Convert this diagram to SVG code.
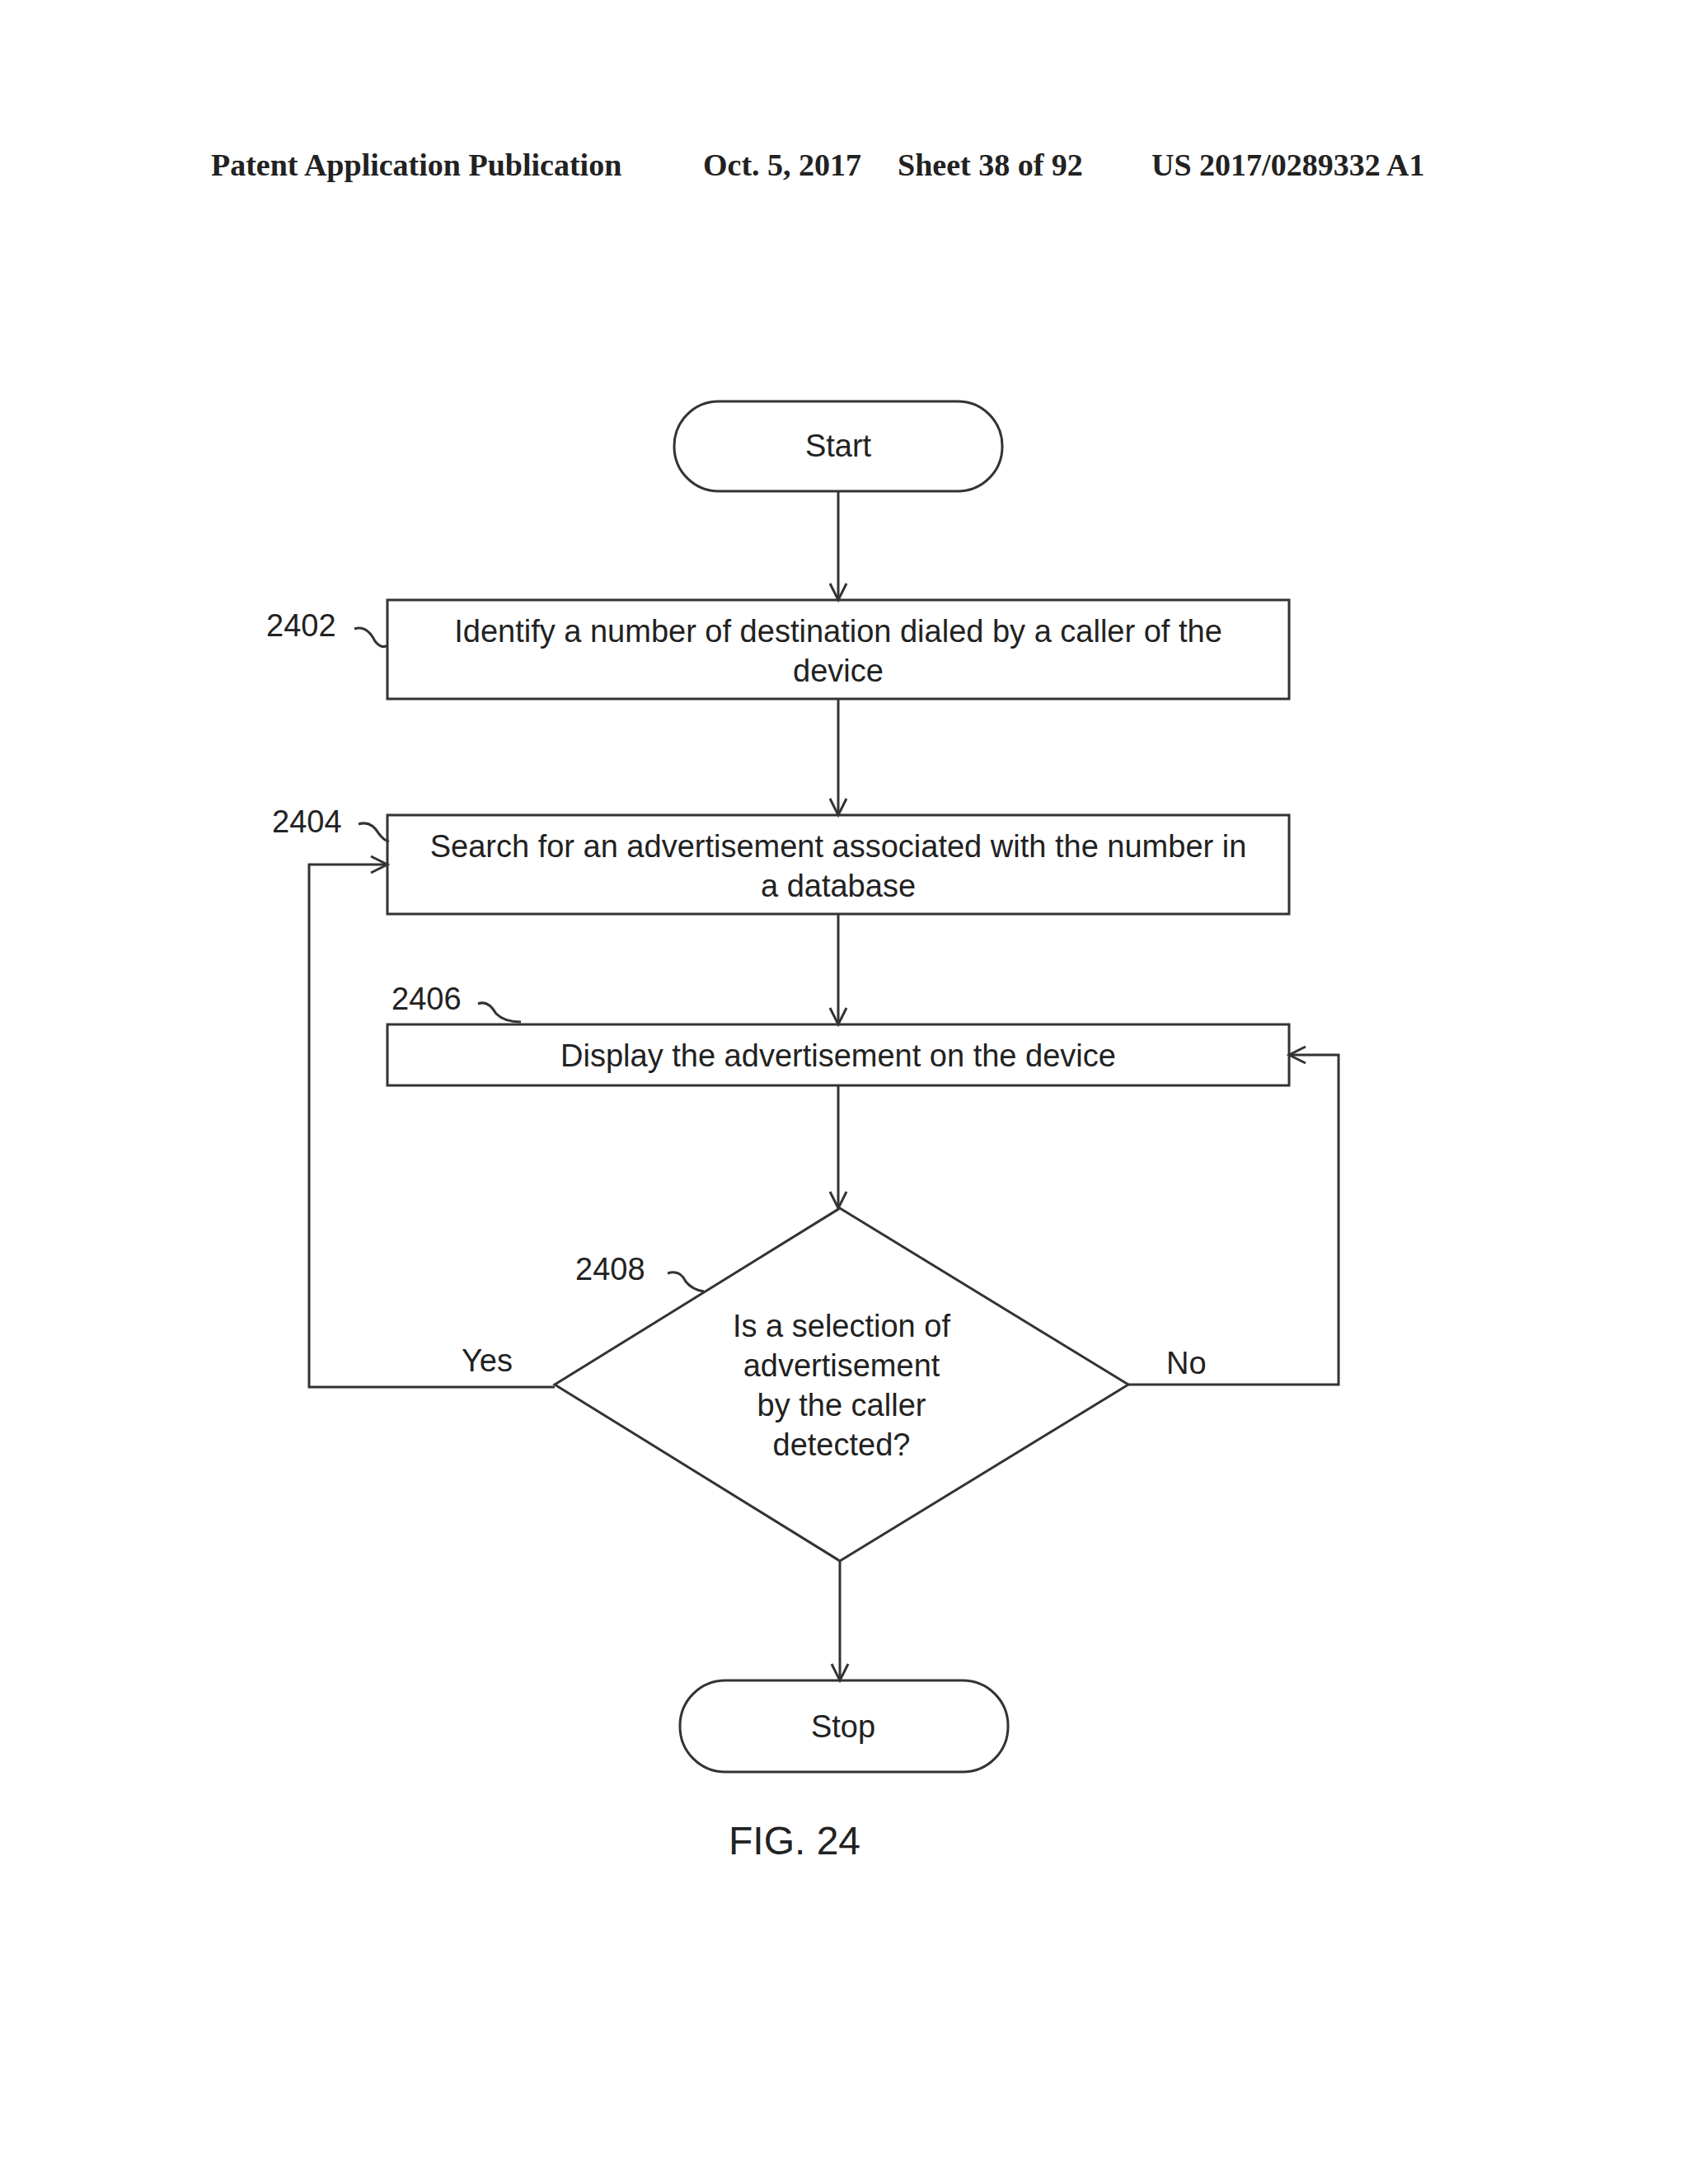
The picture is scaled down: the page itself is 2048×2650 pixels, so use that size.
<svg xmlns="http://www.w3.org/2000/svg" width="2048" height="2650" viewBox="0 0 2048 2650">
<style>
.s{fill:none;stroke:#333;stroke-width:3}
.t{font-family:"Liberation Sans",Arial,sans-serif;font-size:38px;fill:#222;text-anchor:middle}
.l{font-family:"Liberation Sans",Arial,sans-serif;font-size:38px;fill:#222}
.h{font-family:"Liberation Serif","Times New Roman",serif;font-size:38px;font-weight:bold;fill:#222}
</style>
<defs><marker id="a" markerWidth="30" markerHeight="30" refX="22" refY="12" orient="auto" markerUnits="userSpaceOnUse"><path d="M2,2 L22,12 L2,22" fill="none" stroke="#333" stroke-width="3"/></marker></defs>
<rect width="2048" height="2650" fill="#fff"/>
<text class="h" x="256" y="213">Patent Application Publication</text>
<text class="h" x="853" y="213">Oct. 5, 2017</text>
<text class="h" x="1089" y="213">Sheet 38 of 92</text>
<text class="h" x="1397" y="213">US 2017/0289332 A1</text>
<g id="start"><rect class="s" x="818" y="487" width="398" height="109" rx="54"/><text class="t" x="1017" y="554">Start</text></g>
<g id="n2402"><rect class="s" x="470" y="728" width="1094" height="120"/><text class="t" x="1017" y="779">Identify a number of destination dialed by a caller of the</text><text class="t" x="1017" y="827">device</text><text class="l" x="323" y="772">2402</text><path class="s" d="M430,763 q15,-5 25,15 q8,10 15,5"/></g>
<g id="n2404"><rect class="s" x="470" y="989" width="1094" height="120"/><text class="t" x="1017" y="1040">Search for an advertisement associated with the number in</text><text class="t" x="1017" y="1088">a database</text><text class="l" x="330" y="1010">2404</text><path class="s" d="M435,1000 q15,-5 25,12 q8,10 12,8"/></g>
<g id="n2406"><rect class="s" x="470" y="1243" width="1094" height="74"/><text class="t" x="1017" y="1294">Display the advertisement on the device</text><text class="l" x="475" y="1225">2406</text><path class="s" d="M580,1218 q12,-5 22,12 q10,10 30,10"/></g>
<g id="n2408"><path class="s" d="M1019,1466 L1369,1680 L1019,1894 L673,1680 Z"/><text class="t" x="1021" y="1622">Is a selection of</text><text class="t" x="1021" y="1670">advertisement</text><text class="t" x="1021" y="1718">by the caller</text><text class="t" x="1021" y="1766">detected?</text><text class="l" x="698" y="1553">2408</text><path class="s" d="M810,1545 q15,-5 22,10 q8,10 22,12"/></g>
<g id="stop"><rect class="s" x="825" y="2039" width="398" height="111" rx="55"/><text class="t" x="1023" y="2108">Stop</text></g>
<text class="t" x="964" y="2250" style="font-size:48px">FIG. 24</text>
<g id="connectors">
<path class="s" d="M1017,596 V728" marker-end="url(#a)"/>
<path class="s" d="M1017,848 V989" marker-end="url(#a)"/>
<path class="s" d="M1017,1109 V1243" marker-end="url(#a)"/>
<path class="s" d="M1017,1317 V1466" marker-end="url(#a)"/>
<path class="s" d="M1019,1894 V2039" marker-end="url(#a)"/>
<path class="s" d="M673,1683 H375 V1049 H470" marker-end="url(#a)"/>
<path class="s" d="M1369,1680 H1624 V1280 H1564" marker-end="url(#a)"/>
<text class="l" x="560" y="1664">Yes</text>
<text class="l" x="1415" y="1667">No</text>
</g>
</svg>
